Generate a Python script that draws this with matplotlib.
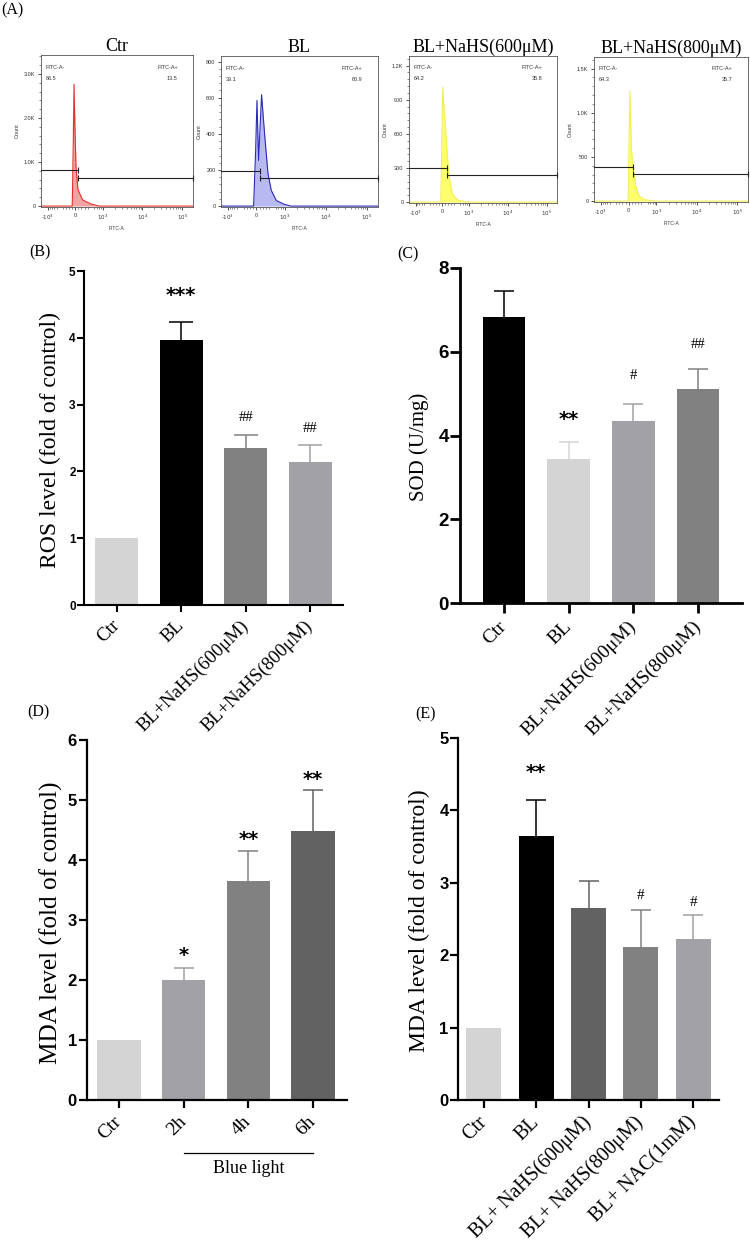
import numpy as np
import matplotlib
matplotlib.use('Agg')
import matplotlib.pyplot as plt
from matplotlib.transforms import blended_transform_factory

SERIF = 'Liberation Serif'
SANS = 'Liberation Sans'

# ---------------- Data ----------------
# (A) flow cytometry histograms (FITC-A value, count)
flow_titles = ['Ctr', 'BL', 'BL+NaHS(600μM)', 'BL+NaHS(800μM)']
flow_neg_pct = ['86.5', '39.1', '64.2', '64.3']
flow_pos_pct = ['13.5', '60.9', '35.8', '35.7']

ctr_fitc = [-1500, -96, -64, -39, -9, 24, 89, 239, 510, 828, 190000]
ctr_count = [0, 0, 1400, 2770, 1800, 900, 370, 140, 46, 0, 0]
bl_fitc = [-1500, -86, -24, 19, 70, 163, 257, 364, 467, 624, 991, 1442, 190000]
bl_count = [0, 0, 300, 585, 253, 617, 400, 179, 87, 31, 9, 0, 0]
n600_fitc = [-1500, -51, 14, 58, 91, 145, 222, 332, 496, 895, 190000]
n600_count = [0, 0, 1009, 809, 706, 485, 220, 74, 20, 0, 0]
n800_fitc = [-1500, -17, 36, 68, 90, 141, 229, 336, 496, 880, 190000]
n800_count = [0, 0, 1248, 840, 577, 388, 162, 57, 19, 0, 0]

gate_split = [100, 120, 150, 150]
gate_neg_h = [813, 197, 300, 388]
gate_pos_h = [632, 155, 235, 305]

flow_ymax = [3432, 831, 1285, 1632]
flow_yticks = [[0, 1000, 2000, 3000], [0, 200, 400, 600, 800],
               [0, 300, 600, 900, 1200], [0, 500, 1000, 1500]]
flow_yticklabels = [['0', '1.0K', '2.0K', '3.0K'], ['0', '200', '400', '600', '800'],
                    ['0', '300', '600', '900', '1.2K'], ['0', '500', '1.0K', '1.5K']]
flow_xticks = [-1000, 0, 1000, 10000, 100000]
flow_xticklabels = ['-$10^3$', '0', '$10^3$', '$10^4$', '$10^5$']

# (B) ROS
b_cats = ['Ctr', 'BL', 'BL+NaHS(600μM)', 'BL+NaHS(800μM)']
b_vals = [1.0, 3.96, 2.35, 2.14]
b_errs = [0.0, 0.28, 0.20, 0.25]
b_sig = ['', '***', '##', '##']

# (C) SOD
c_cats = ['Ctr', 'BL', 'BL+NaHS(600μM)', 'BL+NaHS(800μM)']
c_vals = [6.82, 3.45, 4.35, 5.11]
c_errs = [0.64, 0.39, 0.41, 0.47]
c_sig = ['', '**', '#', '##']

# (D) MDA time course
d_cats = ['Ctr', '2h', '4h', '6h']
d_vals = [1.0, 2.0, 3.64, 4.48]
d_errs = [0.0, 0.20, 0.51, 0.68]
d_sig = ['', '*', '**', '**']

# (E) MDA treatments
e_cats = ['Ctr', 'BL', 'BL+ NaHS(600μM)', 'BL+ NaHS(800μM)', 'BL+ NAC(1mM)']
e_vals = [1.0, 3.64, 2.65, 2.12, 2.23]
e_errs = [0.0, 0.51, 0.38, 0.50, 0.33]
e_sig = ['', '**', '', '#', '#']

# colours
LG, BK, G1, G2, G3 = '#d4d4d4', '#000000', '#a2a2a6', '#818181', '#626262'

fig = plt.figure(figsize=(7.5, 12.46), dpi=100)
W, H = 750.0, 1246.0


def ax_px(l, t, r, b):
    return fig.add_axes([l / W, 1 - b / H, (r - l) / W, (b - t) / H])


# ---------------- (A) ----------------
flow_boxes = [(41, 55, 193, 207), (221, 56, 378, 207), (409, 56, 557, 203), (594, 57, 748, 202)]
flow_data = [(ctr_fitc, ctr_count), (bl_fitc, bl_count), (n600_fitc, n600_count), (n800_fitc, n800_count)]
flow_colors = [('#e2312d', '#f3a3a3'), ('#2a2ab8', '#b9b9f2'), ('#f2ee55', '#ffff6e'), ('#f2ee55', '#ffff6e')]

minor_x = ([-k * 100 for k in range(1, 5)] + [k * 100 for k in range(1, 5)] +
           [-k * 100 for k in range(6, 10)] + [k * 100 for k in range(6, 10)] +
           [k * 10 ** d for d in (3, 4) for k in range(2, 10)])

for i in range(4):
    ax = ax_px(*flow_boxes[i])
    fx, fc = flow_data[i]
    lc, fcol = flow_colors[i]
    ax.set_xscale('symlog', linthresh=500, linscale=0.35)
    ax.set_xlim(-1480, 186000)
    ymax = flow_ymax[i]
    ax.set_ylim(-ymax * 0.006, ymax)
    ax.fill_between(fx, fc, 0, color=fcol, lw=0, zorder=1)
    ax.plot(fx, fc, color=lc, lw=0.8, zorder=2)
    g = gate_split[i]
    ax.plot([-1480, g], [gate_neg_h[i]] * 2, color='#222222', lw=0.8, zorder=3, clip_on=False)
    ax.plot([g], [gate_neg_h[i]], marker='|', ms=4, mew=0.8, color='#222222', zorder=3)
    ax.plot([g, 186000], [gate_pos_h[i]] * 2, color='#222222', lw=0.8, zorder=3, clip_on=False)
    ax.plot([g, 186000], [gate_pos_h[i]] * 2, ls='none', marker='|', ms=4, mew=0.8,
            color='#222222', zorder=3, clip_on=False)
    for s in ax.spines.values():
        s.set_linewidth(0.6)
        s.set_color('#555555')
    ax.set_xticks(flow_xticks)
    ax.set_xticklabels(flow_xticklabels)
    ax.set_xticks(minor_x, minor=True)
    ax.set_yticks(flow_yticks[i])
    ax.set_yticklabels(flow_yticklabels[i])
    yt = flow_yticks[i]
    step = yt[1] - yt[0]
    ax.set_yticks(np.arange(0, ymax, step / 5.0), minor=True)
    ax.tick_params(axis='both', which='major', labelsize=4, length=2.5, width=0.6, pad=1.5, colors='#333333')
    ax.tick_params(axis='both', which='minor', length=1.2, width=0.4, colors='#333333')
    for lab in ax.get_xticklabels() + ax.get_yticklabels():
        lab.set_fontfamily(SANS)
    ax.set_xlabel('FITC-A', fontsize=3.5, family=SANS, labelpad=3, color='#333333')
    ax.set_ylabel('Count', fontsize=4, family=SANS, labelpad=3, color='#333333')
    ax.text(0.03, 0.92, 'FITC-A-', transform=ax.transAxes, fontsize=4, family=SANS, color='#333333', va='center')
    ax.text(0.03, 0.845, flow_neg_pct[i], transform=ax.transAxes, fontsize=4, family=SANS, color='#333333', va='center')
    ax.text(0.90, 0.92, 'FITC-A+', transform=ax.transAxes, fontsize=4, family=SANS, color='#333333', va='center', ha='right')
    ax.text(0.90, 0.845, flow_pos_pct[i], transform=ax.transAxes, fontsize=4, family=SANS, color='#333333', va='center', ha='right')
    ax.set_title(flow_titles[i], family=SERIF, fontsize=13, pad=3)


# ---------------- bar panels ----------------
def bar_panel(ax, cats, vals, errs, colors, sig, sig_off, ylim, yticks, xlim, width,
              ylabel, ylabel_fs, ytick_fs, xtick_fs, ylabel_xy, spine_lw, capsize,
              star_fs=14, hash_fs=10.5, tick_len=5):
    x = np.arange(len(cats))
    ax.bar(x, vals, width=width, color=colors, edgecolor='none', zorder=2)
    for xi, v, e, c in zip(x, vals, errs, colors):
        if e > 0:
            eb = ax.errorbar([xi], [v], yerr=[[0], [e]], fmt='none', ecolor=c, elinewidth=1.1,
                             capsize=capsize, capthick=1.1, zorder=1)
            for cl in eb[1]:
                if abs(cl.get_ydata()[0] - v) < 1e-9:
                    cl.set_visible(False)
    for xi, v, e, s, off in zip(x, vals, errs, sig, sig_off):
        if s:
            if '*' in s:
                ax.annotate(s, (xi, v + e), xytext=(0, off), textcoords='offset points', ha='center',
                            va='center', fontsize=star_fs, family='DejaVu Sans', fontweight='bold')
            else:
                ax.annotate(s, (xi, v + e), xytext=(0, off), textcoords='offset points', ha='center',
                            va='center', fontsize=hash_fs, family=SERIF)
    ax.set_xlim(*xlim)
    ax.set_ylim(*ylim)
    ax.set_yticks(yticks)
    ax.set_yticklabels([str(t) for t in yticks], fontsize=ytick_fs, family=SANS, fontweight='bold')
    ax.set_xticks(x)
    ax.set_xticklabels(cats, rotation=45, ha='right', va='center', rotation_mode='anchor',
                       fontsize=xtick_fs, family=SERIF)
    for s in ('top', 'right'):
        ax.spines[s].set_visible(False)
    for s in ('left', 'bottom'):
        ax.spines[s].set_linewidth(spine_lw)
    ax.tick_params(axis='y', length=tick_len, width=spine_lw, pad=1)
    ax.tick_params(axis='x', length=tick_len, width=spine_lw, pad=8)
    ax.set_ylabel(ylabel, family=SERIF, fontsize=ylabel_fs, va='center')
    ax.yaxis.set_label_coords(*ylabel_xy)


axB = ax_px(84, 271, 343, 605)
bar_panel(axB, b_cats, b_vals, b_errs, [LG, BK, G2, G1], b_sig, [0, 19, 12, 12],
          (0, 5), [0, 1, 2, 3, 4, 5], (-0.51, 3.51), 0.67,
          'ROS level (fold of control)', 17, 8.5, 13.7, (-0.128, 0.495), 1.5, 8.5)

axC = ax_px(460, 268, 742, 603)
bar_panel(axC, c_cats, c_vals, c_errs, [BK, LG, G1, G2], c_sig, [0, 16, 20, 18],
          (0, 8), [0, 2, 4, 6, 8], (-0.68, 3.68), 0.66,
          'SOD (U/mg)', 15, 13.5, 14, (-0.145, 0.467), 2.0, 7.5, tick_len=7)

axD = ax_px(86.7, 740, 346.7, 1099.5)
bar_panel(axD, d_cats, d_vals, d_errs, [LG, G1, G2, G3], d_sig, [0, 8.5, 8, 8],
          (0, 6), [0, 1, 2, 3, 4, 5, 6], (-0.5, 3.52), 0.67,
          'MDA level (fold of control)', 18.2, 12, 14, (-0.135, 0.492), 1.6, 7.5, tick_len=6)

axE = ax_px(458.3, 738, 719.3, 1100)
bar_panel(axE, e_cats, e_vals, e_errs, [LG, BK, G3, G2, G1], e_sig, [0, 19.5, 0, 11, 9],
          (0, 5), [0, 1, 2, 3, 4, 5], (-0.49, 4.5), 0.67,
          'MDA level (fold of control)', 16.9, 12, 14.5, (-0.15, 0.495), 1.6, 7.5,
          hash_fs=11, tick_len=6)

# "Blue light" bracket under panel D
trD = blended_transform_factory(axD.transData, axD.transAxes)
axD.plot([1, 3], [-0.1475, -0.1475], color='k', lw=0.9, transform=trD, clip_on=False)
axD.text(2, -0.191, 'Blue light', transform=trD, ha='center', va='center', family=SERIF, fontsize=13)

# panel letters
for lab, (px, py) in {'(A)': (12, 10), '(B)': (40, 252), '(C)': (408, 254),
                      '(D)': (38, 712), '(E)': (426, 714)}.items():
    fig.text(px / W, 1 - py / H, lab, family=SERIF, fontsize=11.5, ha='center', va='center')

fig.savefig('out.png', dpi=100)
